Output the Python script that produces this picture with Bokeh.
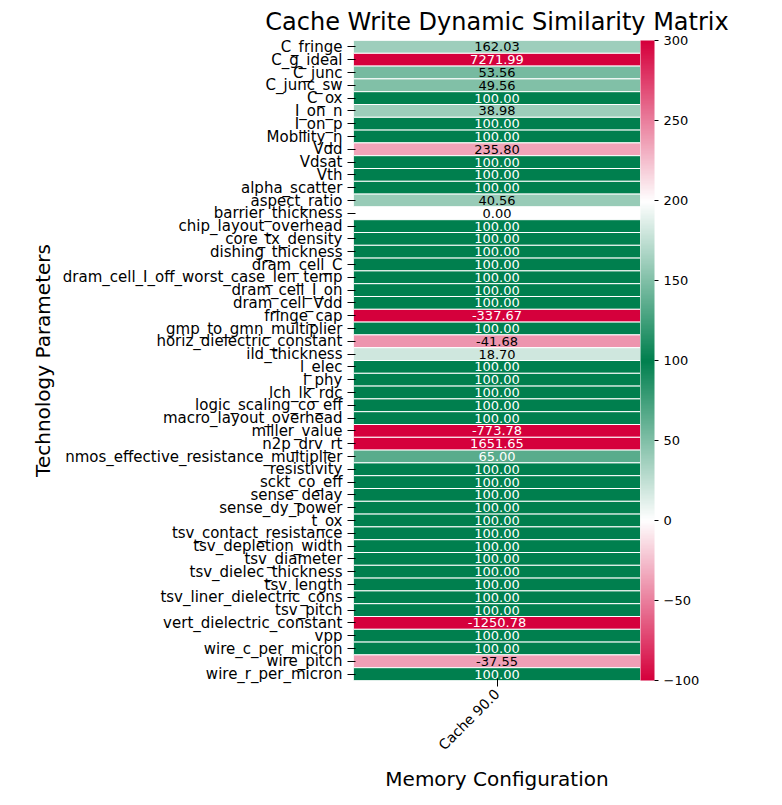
import numpy as np
from bokeh.plotting import figure
from bokeh.models import ColumnDataSource, FactorRange, LinearColorMapper, ColorBar, FixedTicker
from bokeh.embed import file_html
from bokeh.resources import INLINE

params = ["C_fringe","C_g_ideal","C_junc","C_junc_sw","C_ox","I_on_n","I_on_p","Mobility_n","Vdd","Vdsat","Vth",
 "alpha_scatter","aspect_ratio","barrier_thickness","chip_layout_overhead","core_tx_density","dishing_thickness",
 "dram_cell_C","dram_cell_I_off_worst_case_len_temp","dram_cell_I_on","dram_cell_Vdd","fringe_cap",
 "gmp_to_gmn_multiplier","horiz_dielectric_constant","ild_thickness","l_elec","l_phy","lch_lk_rdc",
 "logic_scaling_co_eff","macro_layout_overhead","miller_value","n2p_drv_rt","nmos_effective_resistance_multiplier",
 "resistivity","sckt_co_eff","sense_delay","sense_dy_power","t_ox","tsv_contact_resistance","tsv_depletion_width",
 "tsv_diameter","tsv_dielec_thickness","tsv_length","tsv_liner_dielectric_cons","tsv_pitch",
 "vert_dielectric_constant","vpp","wire_c_per_micron","wire_pitch","wire_r_per_micron"]
values = [162.03,7271.99,53.56,49.56,100,38.98,100,100,235.80,100,100,100,40.56,0.00,100,100,100,100,100,100,100,
 -337.67,100,-41.68,18.70,100,100,100,100,100,-773.78,1651.65,65.00,100,100,100,100,100,100,100,100,100,100,100,100,
 -1250.78,100,100,-37.55,100]
configs = ["Cache 90.0"]

anchors = [(-100,(213,0,60)),(0,(255,255,255)),(100,(0,127,78)),(200,(255,255,255)),(300,(213,0,60))]
def cmap(v):
    v = min(max(v,-100),300)
    for (a,ca),(b,cb) in zip(anchors[:-1],anchors[1:]):
        if v <= b:
            t = (v-a)/(b-a)
            return tuple(ca[i]+(cb[i]-ca[i])*t for i in range(3))
    return anchors[-1][1]
def hexc(c): return "#%02x%02x%02x" % tuple(int(round(x)) for x in c)
def lum(c):
    r = []
    for x in c:
        x = x/255
        r.append(x/12.92 if x <= 0.03928 else ((x+0.055)/1.055)**2.4)
    return 0.2126*r[0]+0.7152*r[1]+0.0722*r[2]

fills = [hexc(cmap(v)) for v in values]
tcols = ["black" if lum(cmap(v)) > 0.408 else "white" for v in values]
src = ColumnDataSource(dict(x=[configs[0]]*len(params), y=params, v=values, fill=fills, tc=tcols,
                            lab=["%.2f" % v for v in values]))

p = figure(x_range=FactorRange(*configs), y_range=FactorRange(*params[::-1]),
           frame_width=287, frame_height=640, output_backend="svg", toolbar_location=None,
           min_border_left=353, min_border_right=134, min_border_top=5)
p.title.text = "Cache Write Dynamic Similarity Matrix"
p.title.text_font = "DejaVu Sans"; p.title.text_font_size = "24px"; p.title.text_font_style = "normal"
p.title.text_color = "black"
p.title.align = "center"
p.rect("x","y",1,1,source=src,fill_color="fill",line_color="white",line_width=1)
p.text("x","y",text="lab",source=src,text_color="tc",text_align="center",text_baseline="middle",
       text_font_size="13px", text_font={"value":"DejaVu Sans"})
for ax in (p.xaxis[0], p.yaxis[0]):
    ax.major_label_text_font = "DejaVu Sans"; ax.major_label_text_font_size = "14px"
    ax.axis_label_text_font = "DejaVu Sans"; ax.axis_label_text_font_size = "20px"
    ax.axis_label_text_font_style = "normal"; ax.axis_line_color = None
    ax.major_label_text_color = "black"; ax.axis_label_text_color = "black"
p.yaxis.major_label_text_font_size = "15px"
p.xaxis.major_label_orientation = np.pi/4
p.xaxis.axis_label = "Memory Configuration"; p.yaxis.axis_label = "Technology Parameters"
p.grid.visible = False; p.outline_line_color = None

pal = [hexc(cmap(v)) for v in np.linspace(-100,300,256)]
cm = LinearColorMapper(palette=pal, low=-100, high=300)
cb = ColorBar(color_mapper=cm, width=14, height=640, padding=0, margin=18,
              ticker=FixedTicker(ticks=[-100,-50,0,50,100,150,200,250,300]),
              major_label_text_font_size="13px", major_label_text_font="DejaVu Sans",
              major_label_text_color="black",
              bar_line_color=None, major_tick_line_color="black", major_tick_out=4, major_tick_in=0)
p.add_layout(cb, "right")

open("out.html","w").write(file_html(p, INLINE))
